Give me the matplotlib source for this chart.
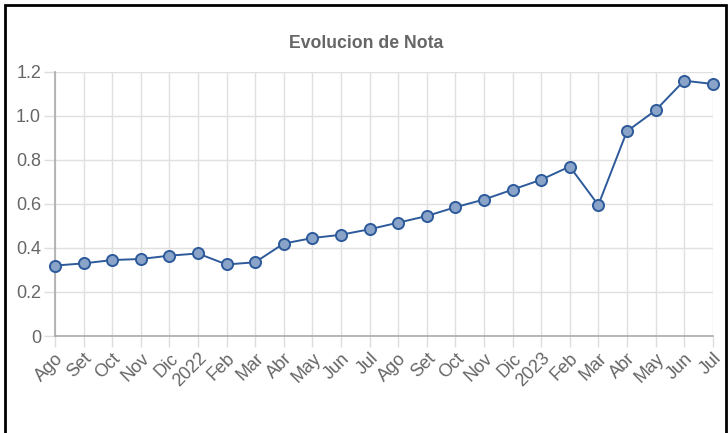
import matplotlib.pyplot as plt
from matplotlib.patches import Rectangle

plt.rcParams["font.family"] = ["Liberation Sans", "DejaVu Sans"]

MONTHS = ["Ago", "Set", "Oct", "Nov", "Dic", "2022", "Feb", "Mar", "Abr", "May",
          "Jun", "Jul", "Ago", "Set", "Oct", "Nov", "Dic", "2023", "Feb", "Mar",
          "Abr", "May", "Jun", "Jul"]
NOTA = [0.32, 0.33, 0.345, 0.35, 0.365, 0.375, 0.325, 0.335, 0.42, 0.445,
        0.46, 0.485, 0.515, 0.545, 0.585, 0.62, 0.665, 0.71, 0.77, 0.595,
        0.93, 1.025, 1.16, 1.145]
Y_TICKS = [0, 0.2, 0.4, 0.6, 0.8, 1.0, 1.2]
Y_LABELS = ["0", "0.2", "0.4", "0.6", "0.8", "1.0", "1.2"]

fig = plt.figure(figsize=(7.28, 4.33), dpi=100)
ax = fig.add_axes([0.0755, 0.224, 0.9035, 0.61])

x = list(range(len(MONTHS)))
ax.plot(x, NOTA, color="#2d5a9a", lw=1.4, marker="o", ms=8,
        markerfacecolor="#8aa3c8", markeredgecolor="#2d5a9a", markeredgewidth=1.4,
        zorder=3, clip_on=False)

ax.set_xlim(0, len(MONTHS) - 1)
ax.set_ylim(0, 1.2)
ax.set_xticks(x)
ax.set_xticklabels(MONTHS, rotation=45, ha="right", rotation_mode="anchor",
                   fontsize=13, color="#666666")
ax.set_yticks(Y_TICKS)
ax.set_yticklabels(Y_LABELS, fontsize=13, color="#666666")
ax.tick_params(axis="both", length=8, color="#dddddd", width=1, pad=2)
ax.grid(True, color="#e0e0e0", lw=1)
ax.set_axisbelow(True)

for side in ["top", "right"]:
    ax.spines[side].set_visible(False)
for side in ["left", "bottom"]:
    ax.spines[side].set_color("#aaaaaa")
    ax.spines[side].set_linewidth(1.2)

fig.text(366 / 728, 1 - 44 / 433, "Evolucion de Nota", ha="center",
         va="center", fontsize=12.7, fontweight="bold", color="#666666")

fig.patches.append(Rectangle((5 / 728, -0.02), 1 - 7 / 728, 1 - 5 / 433 + 0.02,
                             transform=fig.transFigure, fill=False,
                             edgecolor="black", lw=2))

fig.savefig("out.png", dpi=100)
